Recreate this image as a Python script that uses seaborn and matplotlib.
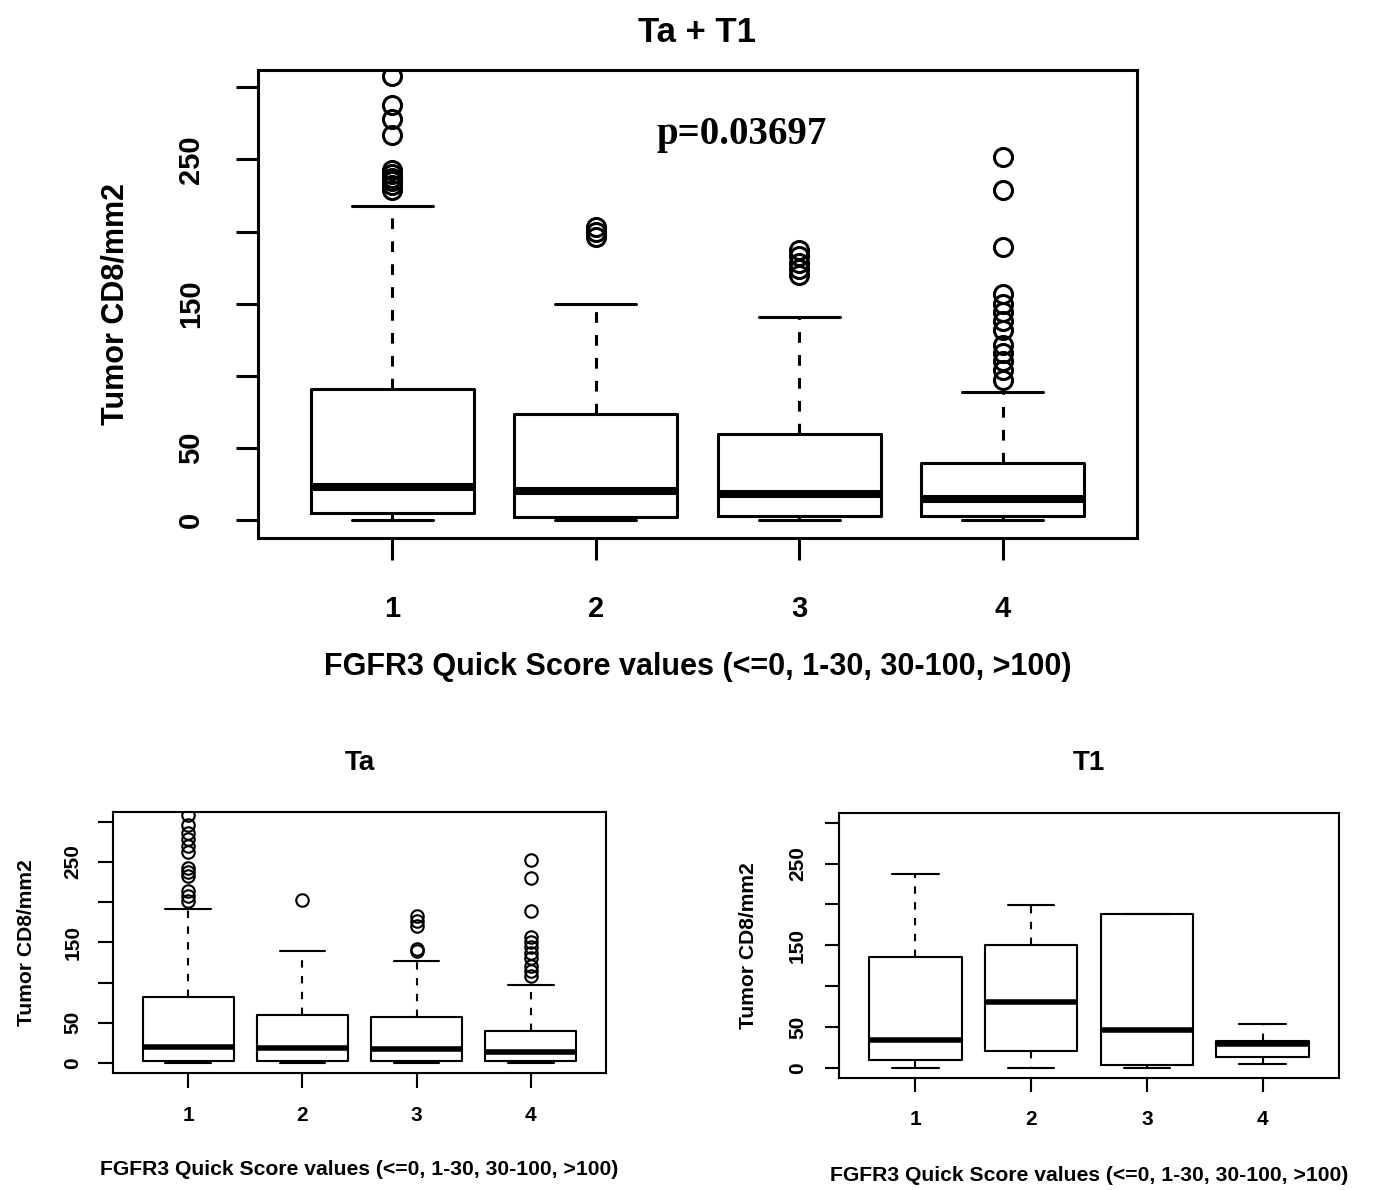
import matplotlib
matplotlib.use('Agg')
import matplotlib.pyplot as plt
import seaborn as sns

# 分组与坐标轴文字
groups = [1, 2, 3, 4]
yticks = [0, 50, 100, 150, 200, 250, 300]
ytick_labels = ['0', '50', '', '150', '', '250', '']
xlabel = 'FGFR3 Quick Score values (<=0, 1-30, 30-100, >100)'
ylabel = 'Tumor CD8/mm2'

# Ta + T1 箱线图统计量
all_q1 = [4.6, 2.3, 3.0, 3.0]
all_med = [22.7, 20.0, 18.0, 14.6]
all_q3 = [91.0, 73.3, 59.4, 39.4]
all_lo = [0, 0, 0, 0]
all_hi = [217.6, 150.0, 141.0, 88.4]
all_fliers = [
    [229, 232, 235, 237, 240, 243, 267, 278, 288, 308],
    [196, 200, 203],
    [170, 174, 178, 183, 187],
    [97, 104, 110, 116, 121, 132, 138, 144, 150, 157, 189, 229, 252],
]

# Ta
ta_q1 = [3.0, 2.0, 2.0, 2.0]
ta_med = [20.0, 18.6, 17.4, 13.2]
ta_q3 = [82.0, 60.0, 57.0, 39.3]
ta_lo = [0, 0, 0, 0]
ta_hi = [191.6, 139.4, 127.0, 97.0]
ta_fliers = [
    [201, 207, 214, 232, 237, 242, 262, 270, 278, 286, 296, 308],
    [203],
    [139, 142, 170, 177, 183],
    [108, 114, 120, 130, 137, 144, 150, 157, 189, 230, 252],
]

# T1
t1_q1 = [9.0, 20.0, 3.0, 13.0]
t1_med = [34.0, 80.0, 46.0, 29.0]
t1_q3 = [136.0, 150.0, 188.0, 33.0]
t1_lo = [0, 0, 0, 5]
t1_hi = [237.7, 199.0, 188.0, 54.0]
t1_fliers = [[], [], [], []]

p_text = 'p=0.03697'


def make_stats(q1, med, q3, lo, hi, fliers):
    stats = []
    for i in range(len(groups)):
        stats.append({'q1': q1[i], 'med': med[i], 'q3': q3[i],
                      'whislo': lo[i], 'whishi': hi[i], 'fliers': fliers[i]})
    return stats


sns.set_style('white')
plt.rcParams['font.family'] = ['Liberation Sans', 'DejaVu Sans']
plt.rcParams['font.weight'] = 'bold'
plt.rcParams['text.color'] = 'black'
plt.rcParams['axes.labelcolor'] = 'black'

W, H = 1373, 1190
fig = plt.figure(figsize=(W / 100, H / 100), dpi=100)


def px_axes(left, top, right, bottom):
    return fig.add_axes([left / W, 1 - bottom / H, (right - left) / W, (bottom - top) / H])


def r_boxplot(ax, stats, title, scale, title_size, title_pad, tick_size, label_size,
              tick_len, xpad, ypad, label_pad_x, label_pad_y):
    lw = 2.2 * scale
    ax.bxp(stats, positions=groups, widths=0.8, patch_artist=False,
           boxprops=dict(color='black', linewidth=lw),
           medianprops=dict(color='black', linewidth=5.8 * scale, solid_capstyle='butt'),
           whiskerprops=dict(color='black', linewidth=lw, linestyle=(0, (3.5, 4))),
           capprops=dict(color='black', linewidth=lw),
           flierprops=dict(marker='o', markerfacecolor='none', markeredgecolor='black',
                           markersize=13 * scale, markeredgewidth=lw))
    ax.set_xlim(0.34, 4.66)
    ax.set_ylim(-12.5, 312)
    ax.set_yticks(yticks)
    ax.set_yticklabels(ytick_labels, rotation=90, va='center')
    ax.set_xticks(groups)
    ax.set_xticklabels([str(g) for g in groups])
    for s in ax.spines.values():
        s.set_linewidth(lw)
        s.set_color('black')
    ax.tick_params(direction='out', length=tick_len, width=lw,
                   labelsize=tick_size, colors='black', left=True, bottom=True)
    ax.tick_params(axis='x', pad=xpad)
    ax.tick_params(axis='y', pad=ypad)
    ax.set_xlabel(xlabel, fontsize=label_size, labelpad=label_pad_x, fontweight='bold')
    ax.set_ylabel(ylabel, fontsize=label_size, labelpad=label_pad_y, fontweight='bold')
    ax.set_title(title, fontsize=title_size, fontweight='bold', pad=title_pad)


ax_all = px_axes(258, 70, 1137, 538)
r_boxplot(ax_all, make_stats(all_q1, all_med, all_q3, all_lo, all_hi, all_fliers),
          'Ta + T1', 1.0, 25, 20, 21, 22, 16, 25, 22, 21, 34)
ax_all.text(2.715, 267, p_text, ha='center', va='center', fontsize=28,
            family=['Liberation Serif', 'DejaVu Serif'], fontweight='bold')

ax_ta = px_axes(113, 812, 606, 1073)
r_boxplot(ax_ta, make_stats(ta_q1, ta_med, ta_q3, ta_lo, ta_hi, ta_fliers),
          'Ta', 0.69, 20, 30, 15, 15.2, 11, 13, 11, 25, 20)

ax_t1 = px_axes(839, 813, 1339, 1078)
r_boxplot(ax_t1, make_stats(t1_q1, t1_med, t1_q3, t1_lo, t1_hi, t1_fliers),
          'T1', 0.69, 20, 31, 15, 15.2, 10, 13, 13, 27, 22)

fig.savefig('out.png', dpi=100)
